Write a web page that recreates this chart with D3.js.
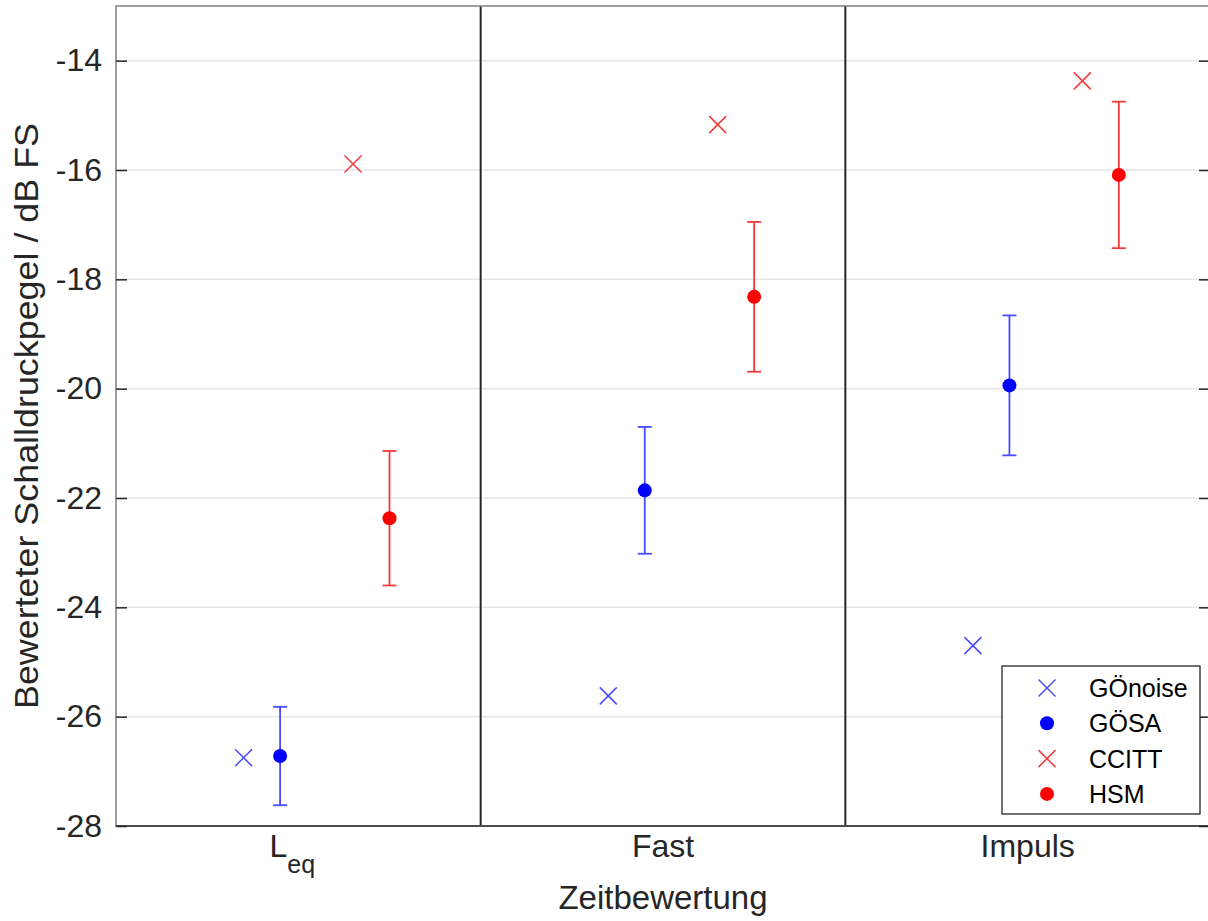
<!DOCTYPE html>
<html>
<head>
<meta charset="utf-8">
<script src="https://cdn.jsdelivr.net/npm/d3@7"></script>
<style>
  body { margin: 0; background: #fff; }
  svg { display: block; font-family: "Liberation Sans", Arial, sans-serif; }
</style>
</head>
<body>
<script>
const w = 1208;
const h = 921;
const plotLeft = 116, plotRight = 1210, plotTop = 6, plotBottom = 826;

// data
const categories = ["Leq", "Fast", "Impuls"];
const yTicks = [-28, -26, -24, -22, -20, -18, -16, -14];
const gonoise = [-26.75, -25.62, -24.70];
const gosa = [-26.72, -21.86, -19.94];
const gosaErr = [0.90, 1.16, 1.28];
const ccitt = [-15.89, -15.17, -14.37];
const hsm = [-22.37, -18.32, -16.09];
const hsmErr = [1.23, 1.37, 1.34];

const blue = "#0000ff", blueLine = "#4a4aff";
const red = "#ff0000", redLine = "#f03a3a";

const series = [
  { name: "GÖnoise", values: gonoise, err: null, shape: "x", color: blueLine, offset: -0.15 },
  { name: "GÖSA", values: gosa, err: gosaErr, shape: "dot", color: blue, line: blueLine, offset: -0.05 },
  { name: "CCITT", values: ccitt, err: null, shape: "x", color: redLine, offset: 0.15 },
  { name: "HSM", values: hsm, err: hsmErr, shape: "dot", color: red, line: redLine, offset: 0.25 },
];

const svg = d3.select("body").append("svg").attr("width", w).attr("height", h);

const x = d3.scaleLinear().domain([0.5, categories.length + 0.5]).range([plotLeft, plotRight]);
const y = d3.scaleLinear().domain([-28, -13]).range([plotBottom, plotTop]);

// grid
svg.append("g")
  .selectAll("line")
  .data(yTicks.slice(1))
  .enter()
  .append("line")
  .attr("x1", plotLeft).attr("x2", plotRight)
  .attr("y1", (d) => y(d)).attr("y2", (d) => y(d))
  .attr("stroke", "#e6e6e6")
  .attr("stroke-width", 1.5);

// separators between categories
svg.append("g")
  .selectAll("line")
  .data([1.5, 2.5])
  .enter()
  .append("line")
  .attr("x1", (d) => x(d)).attr("x2", (d) => x(d))
  .attr("y1", plotTop).attr("y2", plotBottom)
  .attr("stroke", "#262626")
  .attr("stroke-width", 2);

// box
svg.append("rect")
  .attr("x", plotLeft).attr("y", plotTop)
  .attr("width", plotRight - plotLeft).attr("height", plotBottom - plotTop)
  .attr("fill", "none")
  .attr("stroke", "#808080")
  .attr("stroke-width", 1.5);
svg.append("line")
  .attr("x1", plotLeft).attr("x2", plotRight)
  .attr("y1", plotBottom).attr("y2", plotBottom)
  .attr("stroke", "#4d4d4d").attr("stroke-width", 2);

// y axis (ticks inward on both sides)
const yAxis = d3.axisLeft(y).tickValues(yTicks).tickSize(-11).tickPadding(14).tickFormat((d) => "-" + Math.abs(d));
const gy = svg.append("g").attr("transform", `translate(${plotLeft},0)`).call(yAxis);
gy.select(".domain").remove();
gy.selectAll(".tick line").attr("stroke", "#262626").attr("stroke-width", 1.5);
gy.selectAll(".tick text").attr("font-size", 32).attr("fill", "#262626").attr("font-family", "Liberation Sans, Arial, sans-serif");

const gy2 = svg.append("g").attr("transform", `translate(${plotRight},0)`).call(d3.axisRight(y).tickValues(yTicks).tickSize(-11).tickFormat(""));
gy2.select(".domain").remove();
gy2.selectAll(".tick line").attr("stroke", "#262626").attr("stroke-width", 1.5);

// x tick labels
const xl = svg.append("g")
  .selectAll("text")
  .data(categories)
  .enter()
  .append("text")
  .attr("x", (d, i) => x(i + 1))
  .attr("y", 857)
  .attr("text-anchor", "middle")
  .attr("font-size", 32)
  .attr("fill", "#262626");
xl.each(function (d) {
  const t = d3.select(this);
  if (d === "Leq") {
    t.attr("dx", -6);
    t.append("tspan").text("L");
    t.append("tspan").attr("dy", 16).attr("font-size", 25).text("eq");
  } else {
    t.text(d);
  }
});

// axis titles
svg.append("text")
  .attr("x", x(2)).attr("y", 909)
  .attr("text-anchor", "middle")
  .attr("font-size", 33).attr("fill", "#262626")
  .text("Zeitbewertung");
svg.append("text")
  .attr("transform", `translate(38,${(plotTop + plotBottom) / 2}) rotate(-90)`)
  .attr("text-anchor", "middle")
  .attr("font-size", 34).attr("fill", "#262626")
  .attr("textLength", 586).attr("lengthAdjust", "spacingAndGlyphs")
  .text("Bewerteter Schalldruckpegel / dB FS");

function drawX(g, cx, cy, color, s) {
  g.append("path")
    .attr("d", `M${cx - s},${cy - s}L${cx + s},${cy + s}M${cx - s},${cy + s}L${cx + s},${cy - s}`)
    .attr("stroke", color).attr("stroke-width", 1.5).attr("fill", "none");
}

// marks
series.forEach((s) => {
  const g = svg.append("g");
  s.values.forEach((v, i) => {
    const cx = x(i + 1 + s.offset);
    if (s.err) {
      const y0 = y(v + s.err[i]), y1 = y(v - s.err[i]);
      g.append("line").attr("x1", cx).attr("x2", cx).attr("y1", y0).attr("y2", y1)
        .attr("stroke", s.line).attr("stroke-width", 1.8);
      [y0, y1].forEach((yy) => {
        g.append("line").attr("x1", cx - 7).attr("x2", cx + 7).attr("y1", yy).attr("y2", yy)
          .attr("stroke", s.line).attr("stroke-width", 1.8);
      });
    }
    if (s.shape === "dot") {
      g.append("circle").attr("cx", cx).attr("cy", y(v)).attr("r", 7).attr("fill", s.color);
    } else {
      drawX(g, cx, y(v), s.color, 8.5);
    }
  });
});

// legend
const legend = svg.append("g").attr("transform", "translate(1002,666)");
legend.append("rect")
  .attr("width", 198).attr("height", 148)
  .attr("fill", "#fff").attr("stroke", "#262626").attr("stroke-width", 1.3);
series.forEach((s, i) => {
  const ly = 22 + i * 35.3;
  if (s.shape === "dot") {
    legend.append("circle").attr("cx", 45).attr("cy", ly).attr("r", 7).attr("fill", s.color);
  } else {
    drawX(legend, 45, ly, s.color, 8.5);
  }
  legend.append("text")
    .attr("x", 87).attr("y", ly + 9)
    .attr("font-size", 25).attr("fill", "#000")
    .text(s.name);
});
</script>
</body>
</html>
